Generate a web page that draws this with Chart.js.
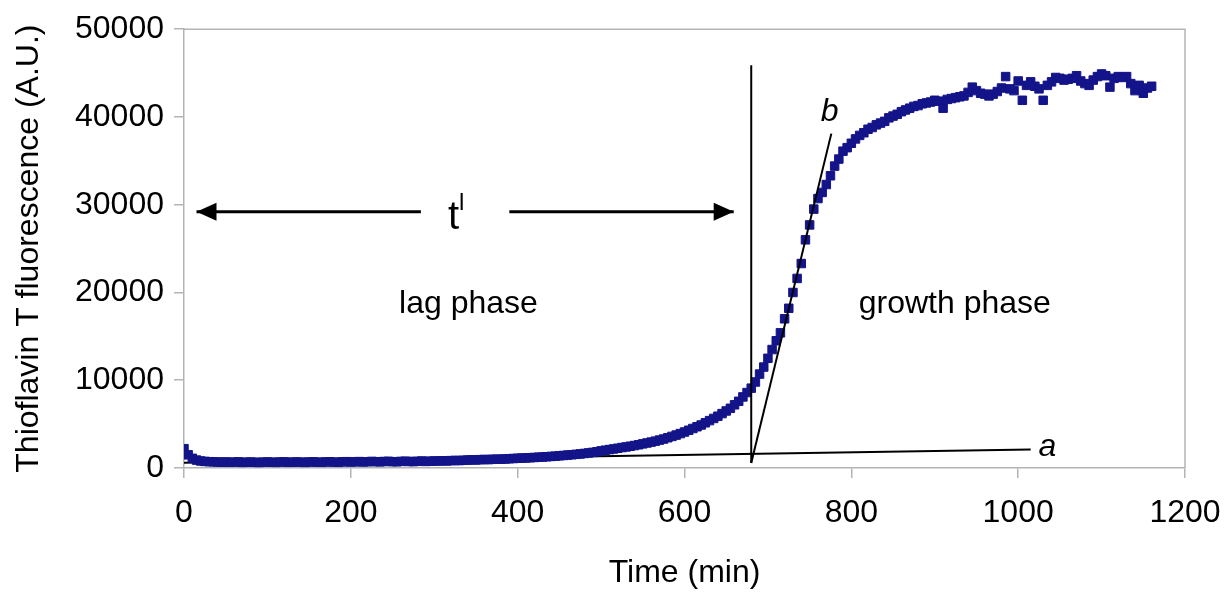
<!DOCTYPE html>
<html>
<head>
<meta charset="utf-8">
<title>Thioflavin T fluorescence</title>
<script src="https://cdn.jsdelivr.net/npm/chart.js@4.4.1/dist/chart.umd.min.js"></script>
<style>
  html, body { margin: 0; padding: 0; background: #fff; }
  #wrap { width: 1225px; height: 592px; position: relative; }
</style>
</head>
<body>
<div id="wrap"><canvas id="tftChart"></canvas></div>
<script>
// sampling times (min)
const times = [
  0, 5, 10, 15, 20, 25, 30, 35, 40, 45, 50, 55, 60, 65, 70, 75, 80, 85, 90, 95,
  100, 105, 110, 115, 120, 125, 130, 135, 140, 145, 150, 155, 160, 165, 170, 175, 180, 185, 190, 195,
  200, 205, 210, 215, 220, 225, 230, 235, 240, 245, 250, 255, 260, 265, 270, 275, 280, 285, 290, 295,
  300, 305, 310, 315, 320, 325, 330, 335, 340, 345, 350, 355, 360, 365, 370, 375, 380, 385, 390, 395,
  400, 405, 410, 415, 420, 425, 430, 435, 440, 445, 450, 455, 460, 465, 470, 475, 480, 485, 490, 495,
  500, 505, 510, 515, 520, 525, 530, 535, 540, 545, 550, 555, 560, 565, 570, 575, 580, 585, 590, 595,
  600, 605, 610, 615, 620, 625, 630, 635, 640, 645, 650, 655, 660, 665, 670, 675, 680, 685, 690, 695,
  700, 705, 710, 715, 720, 725, 730, 735, 740, 745, 750, 755, 760, 765, 770, 775, 780, 785, 790, 795,
  800, 805, 810, 815, 820, 825, 830, 835, 840, 845, 850, 855, 860, 865, 870, 875, 880, 885, 890, 895,
  900, 905, 910, 915, 920, 925, 930, 935, 940, 945, 950, 955, 960, 965, 970, 975, 980, 985, 990, 995,
  1000, 1005, 1010, 1015, 1020, 1025, 1030, 1035, 1040, 1045, 1050, 1055, 1060, 1065, 1070, 1075, 1080, 1085, 1090, 1095,
  1100, 1105, 1110, 1115, 1120, 1125, 1130, 1135, 1140, 1145, 1150, 1155, 1160
];

// ThT fluorescence (A.U.)
const fluorescence = [
  2200, 1500, 1100, 900, 800, 750, 720, 700, 680, 660, 690, 650, 670, 700, 640, 660, 680, 650, 630, 670,
  690, 660, 640, 680, 700, 650, 660, 690, 670, 640, 680, 700, 660, 650, 690, 710, 670, 650, 700, 720,
  680, 700, 730, 690, 710, 750, 720, 700, 740, 760, 720, 710, 750, 770, 740, 730, 760, 790, 750, 770,
  800, 800, 820, 810, 840, 860, 850, 880, 900, 930, 920, 950, 970, 960, 990, 1010, 1000, 1030, 1060, 1080,
  1110, 1130, 1150, 1170, 1200, 1230, 1250, 1280, 1320, 1350, 1390, 1430, 1470, 1510, 1560, 1600, 1660, 1720, 1780, 1850,
  1950, 2030, 2100, 2170, 2250, 2330, 2400, 2480, 2560, 2650, 2750, 2850, 2950, 3060, 3180, 3300, 3450, 3600, 3750, 3920,
  4100, 4300, 4500, 4700, 4900, 5150, 5400, 5650, 5900, 6200, 6500, 6800, 7200, 7600, 8100, 8600, 9100, 9800, 10700, 11500,
  12500, 13500, 14500, 15400, 17000, 18200, 20000, 21600, 23300, 26000, 27700, 29500, 30700, 31400, 32300, 33300, 34400, 35200, 36100, 36500,
  37000, 37500, 37900, 38200, 38600, 38800, 39100, 39300, 39500, 39900, 40100, 40300, 40600, 40800, 41000, 41200, 41300, 41500, 41600, 41700,
  41900, 41800, 41000, 42000, 42100, 42200, 42300, 42400, 42800, 43400, 43000, 42700, 42600, 42400, 42600, 42900, 43300, 44600, 43200, 43000,
  44100, 41900, 43600, 44000, 43500, 43200, 41900, 43600, 44000, 44500, 44400, 44200, 44300, 44400, 44700, 44100, 43800, 43600, 44200, 44600,
  44900, 44700, 43400, 44400, 44600, 44500, 44600, 43800, 43000, 43600, 42700, 43300, 43500
];

// construction lines: a = baseline, b = growth tangent, lag marker
const lineA = [[0, 600], [1015, 2110]];
const lineB = [[680, 560], [776, 38100]];
const lagLine = [[680, 560], [680, 45900]];
const arrowLeft = [[15, 29200], [284, 29200]];
const arrowRight = [[390, 29200], [659, 29200]];

const xTicks = [0, 200, 400, 600, 800, 1000, 1200];
const yTicks = [0, 10000, 20000, 30000, 40000, 50000];

const FONT = '"Liberation Sans", Arial, sans-serif';

const toPoints = pairs => pairs.map(p => ({ x: p[0], y: p[1] }));

function lineSet(pairs, width) {
    return {
        data: toPoints(pairs),
        showLine: true,
        borderColor: '#000',
        borderWidth: width,
        pointRadius: 0,
        fill: false
    };
}

// text drawn in data coordinates
const notes = [
    { text: 'lag phase', x: 341, y: 18700, font: '32px ' + FONT },
    { text: 'growth phase', x: 924, y: 18700, font: '32px ' + FONT },
    { text: 'a', x: 1035, y: 2330, font: 'italic 32px ' + FONT },
    { text: 'b', x: 774, y: 40560, font: 'italic 32px ' + FONT },
    { text: 't', x: 323, y: 28500, font: '40px ' + FONT },
    { text: 'l', x: 333, y: 30100, font: '24px ' + FONT }
];

const extras = {
    id: 'extras',
    beforeDatasetsDraw(chart) {
        const { ctx, chartArea } = chart;
        ctx.save();
        ctx.strokeStyle = '#b4b4b4';
        ctx.lineWidth = 1.5;
        ctx.beginPath();
        ctx.moveTo(chartArea.left, chartArea.top);
        ctx.lineTo(chartArea.right, chartArea.top);
        ctx.lineTo(chartArea.right, chartArea.bottom);
        ctx.stroke();
        ctx.restore();
    },
    afterDatasetsDraw(chart) {
        const { ctx } = chart;
        const xs = chart.scales.x, ys = chart.scales.y;
        ctx.save();
        // arrow heads
        ctx.fillStyle = '#000';
        const heads = [[arrowLeft[0], -1], [arrowRight[1], 1]];
        heads.forEach(([p, dir]) => {
            const px = xs.getPixelForValue(p[0]);
            const py = ys.getPixelForValue(p[1]);
            ctx.beginPath();
            ctx.moveTo(px, py);
            ctx.lineTo(px - dir * 20, py - 9);
            ctx.lineTo(px - dir * 20, py + 9);
            ctx.closePath();
            ctx.fill();
        });
        // labels
        ctx.textAlign = 'center';
        ctx.textBaseline = 'middle';
        notes.forEach(n => {
            ctx.font = n.font;
            ctx.fillText(n.text, xs.getPixelForValue(n.x), ys.getPixelForValue(n.y));
        });
        ctx.restore();
    }
};

const ctx = document.getElementById('tftChart').getContext('2d');

// first dataset is painted last, so baseline a sits under the points
new Chart(ctx, {
    type: 'scatter',
    data: {
        datasets: [
            lineSet(lineB, 2),
            lineSet(lagLine, 2),
            lineSet(arrowLeft, 3),
            lineSet(arrowRight, 3),
            {
                data: times.map((t, i) => ({ x: t, y: fluorescence[i] })),
                pointStyle: 'rect',
                pointRadius: 6,
                pointBorderWidth: 1,
                pointBackgroundColor: '#14148a',
                pointBorderColor: '#14148a',
                showLine: false
            },
            lineSet(lineA, 2)
        ]
    },
    options: {
        responsive: true,
        maintainAspectRatio: false,
        animation: false,
        layout: { padding: { left: 10, top: 24, right: 40, bottom: 0 } },
        plugins: {
            legend: { display: false },
            tooltip: { enabled: false }
        },
        scales: {
            x: {
                type: 'linear',
                min: 0,
                max: 1200,
                afterFit(scale) {
                    scale.height = 124;
                    scale.paddingLeft = 0;
                    scale.paddingRight = 0;
                },
                afterBuildTicks(scale) { scale.ticks = xTicks.map(v => ({ value: v })); },
                ticks: { color: '#000', font: { family: FONT, size: 32 }, padding: 16, maxRotation: 0, callback: v => String(v) },
                grid: { drawOnChartArea: false, drawTicks: true, tickLength: 10, color: '#b4b4b4', lineWidth: 1.5 },
                border: { display: true, color: '#b4b4b4', width: 1.5 },
                title: { display: true, text: 'Time (min)', color: '#000', font: { family: FONT, size: 32 }, padding: 0 }
            },
            y: {
                type: 'linear',
                min: 0,
                max: 50000,
                afterFit(scale) { scale.width = 174; },
                afterBuildTicks(scale) { scale.ticks = yTicks.map(v => ({ value: v })); },
                ticks: { color: '#000', font: { family: FONT, size: 32 }, padding: 10, callback: v => String(v) },
                grid: { drawOnChartArea: false, drawTicks: true, tickLength: 10, color: '#b4b4b4', lineWidth: 1.5 },
                border: { display: true, color: '#b4b4b4', width: 1.5 },
                title: { display: true, text: 'Thioflavin T fluorescence (A.U.)', color: '#000', font: { family: FONT, size: 32 }, padding: 0 }
            }
        }
    },
    plugins: [extras]
});
</script>
</body>
</html>
